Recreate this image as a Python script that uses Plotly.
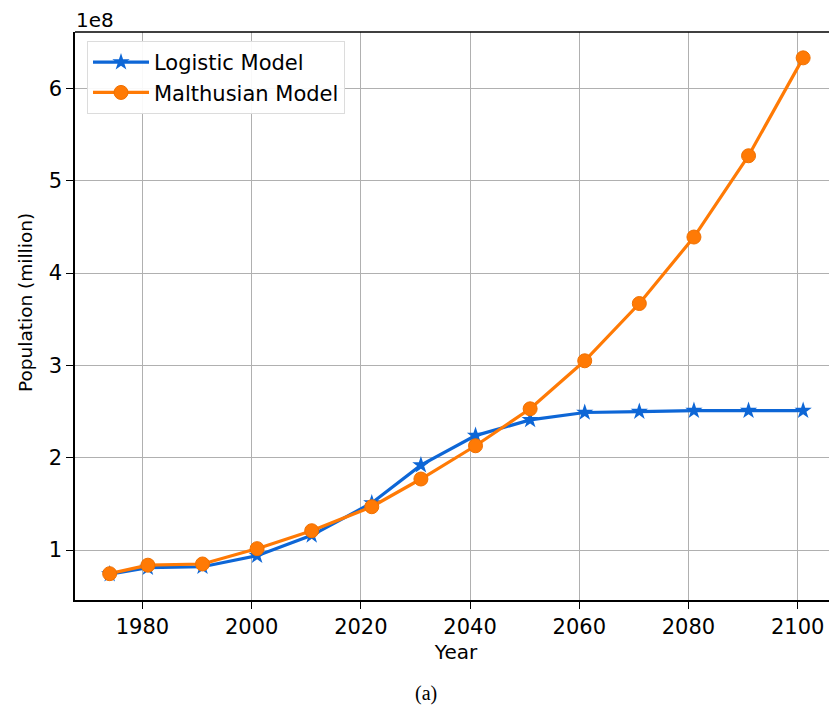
import plotly.graph_objects as go

years = [1974, 1981, 1991, 2001, 2011, 2022, 2031, 2041, 2051, 2061, 2071, 2081, 2091, 2101]
logistic = [0.74e8, 0.81e8, 0.82e8, 0.94e8, 1.16e8, 1.51e8, 1.92e8, 2.24e8, 2.41e8, 2.49e8, 2.50e8, 2.51e8, 2.51e8, 2.51e8]
malthusian = [0.745e8, 0.837e8, 0.85e8, 1.016e8, 1.21e8, 1.47e8, 1.77e8, 2.13e8, 2.53e8, 3.05e8, 3.67e8, 4.39e8, 5.27e8, 6.33e8]
x_ticks = [1980, 2000, 2020, 2040, 2060, 2080, 2100]
y_ticks = [1e8, 2e8, 3e8, 4e8, 5e8, 6e8]
y_ticktext = ["1", "2", "3", "4", "5", "6"]

BLUE = "#0d66d6"
ORANGE = "#ff7a05"
FONT = "DejaVu Sans"

# page body has an 8px default margin: compensate
OFF = 8
W, H = 837 - OFF, 706 - OFF
L, T = 75 - OFF, 32 - OFF
R, B = 0, H - (600 - OFF)
PW, PH = W - L - R, H - T - B


def px_x(x):  # reference pixel -> paper x
    return (x - OFF - L) / PW


def px_y(y):  # reference pixel -> paper y
    return 1 - (y - OFF - T) / PH


fig = go.Figure()
fig.add_trace(go.Scatter(
    x=years, y=logistic, mode="lines+markers", name="Logistic Model",
    line=dict(color=BLUE, width=3.2),
    marker=dict(symbol="star", size=13, color=BLUE),
))
fig.add_trace(go.Scatter(
    x=years, y=malthusian, mode="lines+markers", name="Malthusian Model",
    line=dict(color=ORANGE, width=3.2),
    marker=dict(symbol="circle", size=14, color=ORANGE,
                line=dict(color="#f07000", width=1)),
))

fig.update_layout(
    width=W, height=H,
    margin=dict(l=L, r=R, t=T, b=B, autoexpand=False),
    paper_bgcolor="white", plot_bgcolor="white",
    font=dict(family=FONT, size=20, color="black"),
    showlegend=True,
    legend=dict(
        x=px_x(87), y=px_y(41), xanchor="left", yanchor="top",
        bgcolor="rgba(255,255,255,0.92)", bordercolor="#dcdcdc", borderwidth=1,
        font=dict(family=FONT, size=21, color="black"),
        itemwidth=56, tracegroupgap=0,
    ),
    xaxis=dict(
        range=[1967.65, 2107.2], tickvals=x_ticks, automargin=False,
        showgrid=True, gridcolor="#b0b0b0", gridwidth=1,
        showline=True, linecolor="black", linewidth=1.5, mirror=False,
        ticks="outside", ticklen=7, tickcolor="black", tickwidth=1.3,
        tickfont=dict(family=FONT, size=21),
        title=dict(text="Year", font=dict(family=FONT, size=20), standoff=7),
        zeroline=False,
    ),
    yaxis=dict(
        range=[0.46e8, 6.61e8], tickvals=y_ticks, ticktext=y_ticktext, automargin=False,
        showgrid=True, gridcolor="#b0b0b0", gridwidth=1,
        showline=True, linecolor="black", linewidth=1.5, mirror=False,
        ticks="outside", ticklen=7, tickcolor="black", tickwidth=1.3,
        tickfont=dict(family=FONT, size=21),
        zeroline=False,
    ),
)

# top spine
fig.add_shape(type="line", xref="paper", yref="paper", x0=0, x1=1, y0=1, y1=1,
              line=dict(color="black", width=1.5))

# y-axis title
fig.add_annotation(text="Population (million)", xref="paper", yref="paper",
                   x=px_x(25), y=px_y(303), xanchor="center", yanchor="middle",
                   textangle=-90, showarrow=False, font=dict(family=FONT, size=18.5))

fig.add_annotation(text="1e8", xref="paper", yref="paper", x=px_x(74), y=px_y(19.5),
                   xanchor="left", yanchor="middle", showarrow=False,
                   font=dict(family=FONT, size=20))
fig.add_annotation(text="(a)", xref="paper", yref="paper", x=px_x(426), y=px_y(694),
                   xanchor="center", yanchor="middle", showarrow=False,
                   font=dict(family="Liberation Serif", size=20))

fig.write_html("out.html")
